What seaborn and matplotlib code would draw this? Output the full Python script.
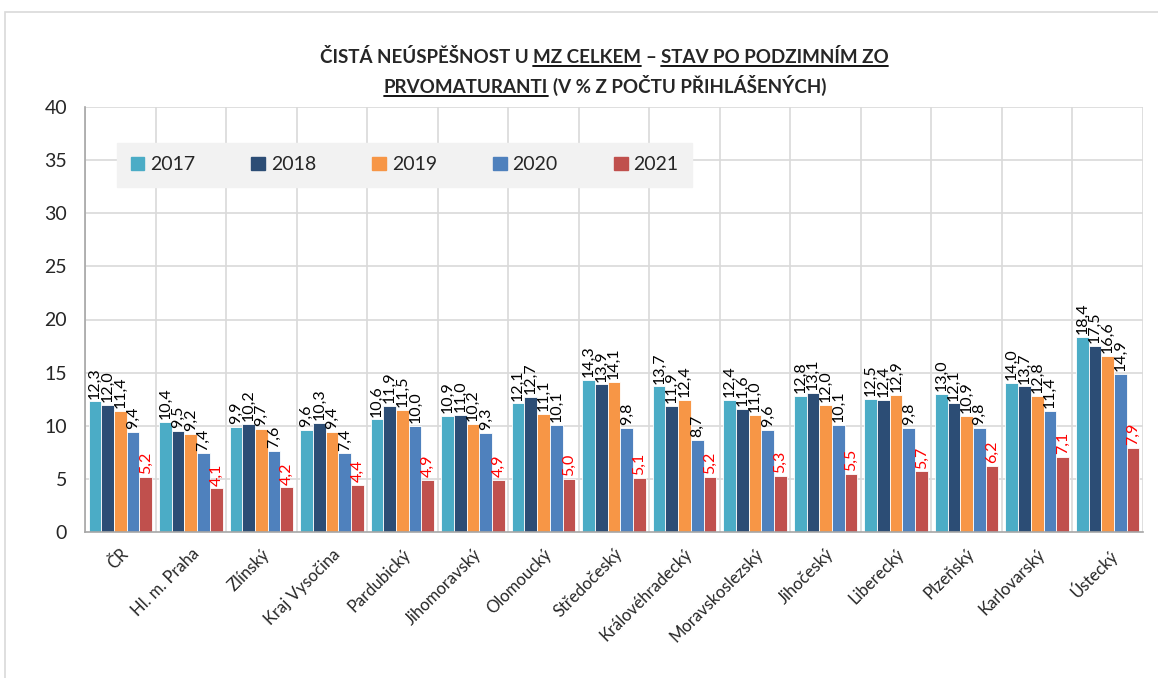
import matplotlib
matplotlib.use("Agg")
import matplotlib.pyplot as plt
import seaborn as sns
import pandas as pd
import numpy as np
from matplotlib.patches import Rectangle
from matplotlib.lines import Line2D

regions = ["ČR", "Hl. m. Praha", "Zlínský", "Kraj Vysočina", "Pardubický",
           "Jihomoravský", "Olomoucký", "Středočeský", "Královéhradecký",
           "Moravskoslezský", "Jihočeský", "Liberecký", "Plzeňský",
           "Karlovarský", "Ústecký"]
years = ["2017", "2018", "2019", "2020", "2021"]

v2017 = [12.3, 10.4, 9.9, 9.6, 10.6, 10.9, 12.1, 14.3, 13.7, 12.4, 12.8, 12.5, 13.0, 14.0, 18.4]
v2018 = [12.0, 9.5, 10.2, 10.3, 11.9, 11.0, 12.7, 13.9, 11.9, 11.6, 13.1, 12.4, 12.1, 13.7, 17.5]
v2019 = [11.4, 9.2, 9.7, 9.4, 11.5, 10.2, 11.1, 14.1, 12.4, 11.0, 12.0, 12.9, 10.9, 12.8, 16.6]
v2020 = [9.4, 7.4, 7.6, 7.4, 10.0, 9.3, 10.1, 9.8, 8.7, 9.6, 10.1, 9.8, 9.8, 11.4, 14.9]
v2021 = [5.2, 4.1, 4.2, 4.4, 4.9, 4.9, 5.0, 5.1, 5.2, 5.3, 5.5, 5.7, 6.2, 7.1, 7.9]

colors = ["#4BACC6", "#2C4D75", "#F79646", "#4F81BD", "#C0504D"]

rows = []
for y, vals in zip(years, [v2017, v2018, v2019, v2020, v2021]):
    for r, v in zip(regions, vals):
        rows.append({"kraj": r, "rok": y, "hodnota": v})
df = pd.DataFrame(rows)

sns.set_style("white")
plt.rcParams['font.family'] = ['Lato', 'DejaVu Sans']

W, H = 1158, 678
fig = plt.figure(figsize=(W / 100, H / 100), dpi=100)
ax = fig.add_axes([85 / W, 1 - 532 / H, (1143 - 85) / W, (532 - 107) / H])

sns.barplot(data=df, x="kraj", y="hodnota", hue="rok", order=regions,
            hue_order=years, palette=colors, width=0.9, saturation=1,
            edgecolor="white", linewidth=0.6, ax=ax)

ax.set_ylim(0, 40)
ax.set_xlim(-0.5, len(regions) - 0.5)
ax.set_yticks(np.arange(0, 41, 5))
ax.tick_params(axis="y", labelsize=14, length=5, color="#A6A6A6", pad=8)
ax.set_xlabel("")
ax.set_ylabel("")

# category boundaries: ticks + vertical grid
ax.set_xticks(np.arange(len(regions)))
ax.set_xticklabels(regions, rotation=45, ha="right", rotation_mode="anchor", fontsize=12)
ax.tick_params(axis="x", length=0, pad=10)
ax.set_xticks(np.arange(-0.5, len(regions)), minor=True)
ax.tick_params(axis="x", which="minor", length=6, color="#A6A6A6")
for b in np.arange(-0.5, len(regions)):
    ax.axvline(b, color="#D9D9D9", lw=1.2, zorder=0)
for g in np.arange(5, 41, 5):
    ax.axhline(g, color="#D9D9D9", lw=1.2, zorder=0)
ax.set_axisbelow(True)
for s in ["top", "right"]:
    ax.spines[s].set_visible(False)
for s in ["left", "bottom"]:
    ax.spines[s].set_color("#A6A6A6")
    ax.spines[s].set_linewidth(1.2)

# value labels
for i, cont in enumerate(ax.containers):
    labels = [f"{b.get_height():.1f}".replace(".", ",") for b in cont]
    ax.bar_label(cont, labels=labels, rotation=90, padding=2, fontsize=11.5,
                 color="#FF0000" if i == 4 else "black")

# legend
handles = [Rectangle((0, 0), 1, 1, color=c) for c in colors]
leg = ax.legend(handles, years, ncol=5, loc="upper left",
                bbox_to_anchor=(0.021, 0.847, 0.562, 0.092), mode="expand",
                frameon=True, fontsize=14, handlelength=0.7, handleheight=0.7,
                handletextpad=0.3, borderpad=0.7, fancybox=False)
leg.get_frame().set_facecolor("#F2F2F2")
leg.get_frame().set_edgecolor("#F2F2F2")
leg.get_frame().set_alpha(1)

# outer frame
fig.patches.append(Rectangle((5 / W, -0.01), 1.02, 1 - 12 / H + 0.01, transform=fig.transFigure,
                             fill=False, edgecolor="#D9D9D9", lw=1.2))

# title with underlined parts
fig.canvas.draw()
renderer = fig.canvas.get_renderer()
tsize = 13.5


def measure(s):
    t = fig.text(0, 0, s, fontsize=tsize, fontweight="bold")
    w = t.get_window_extent(renderer).width
    t.remove()
    return w


space = measure("I I") - measure("II")


def title_line(parts, cx, base_px):
    widths = [measure(s) for s, _ in parts]
    total = sum(widths) + space * (len(parts) - 1)
    x = cx - total / 2
    for (s, ul), w in zip(parts, widths):
        fig.text(x / W, 1 - base_px / H, s, fontsize=tsize, fontweight="bold",
                 ha="left", va="baseline")
        if ul:
            fig.add_artist(Line2D([x / W, (x + w) / W],
                                  [1 - (base_px + 3) / H] * 2,
                                  transform=fig.transFigure, color="black", lw=1.3))
        x += w + space


title_line([("ČISTÁ NEÚSPĚŠNOST U", False), ("MZ CELKEM", True), ("–", False),
            ("STAV PO PODZIMNÍM ZO", True)], 604, 63)
title_line([("PRVOMATURANTI", True), ("(V % Z POČTU PŘIHLÁŠENÝCH)", False)], 605, 93)

fig.savefig("out.png", dpi=100)
